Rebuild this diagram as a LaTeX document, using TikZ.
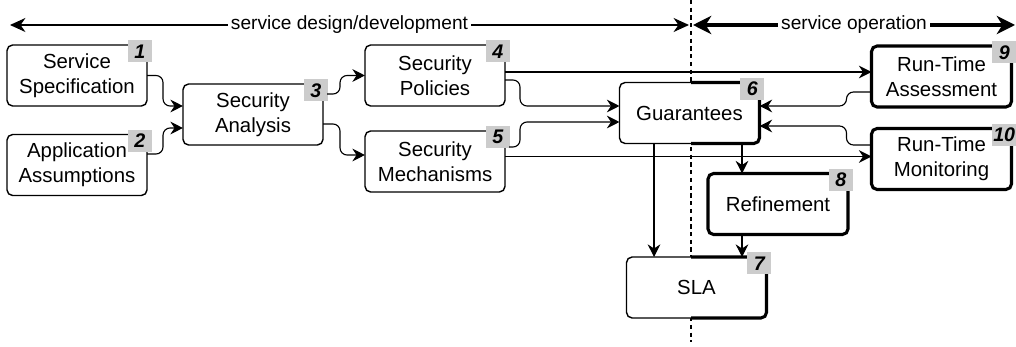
\documentclass[tikz,border=0pt]{standalone}
\usepackage{fontspec}
\setmainfont{Liberation Sans}
\usetikzlibrary{arrows.meta}
\begin{document}
\begin{tikzpicture}[x=0.025cm, y=-0.025cm,
  box/.style={draw, line width=1pt, rounded corners=4pt, fill=white, align=center,
    minimum width=3.5cm, minimum height=1.525cm, outer sep=0pt,
    font=\fontsize{14.5}{18}\selectfont},
  heavy/.style={line width=2.2pt},
  badge/.style={fill=black!20, minimum width=0.6cm, minimum height=0.55cm, inner sep=0pt,
    anchor=north east, font=\fontsize{14}{17}\selectfont\bfseries\itshape},
  conn/.style={line width=0.8pt, rounded corners=5pt, -{Stealth[length=9pt,width=9pt,inset=3pt]}},
  phase/.style={fill=white, inner sep=2pt, font=\fontsize{13.6}{17}\selectfont}]
\useasboundingbox (0,0) rectangle (1016,347);
\coordinate (dashtop) at (691,0);
\coordinate (dashbot) at (691,342);
\coordinate (designL) at (10,25);
\coordinate (designR) at (689,25);
\coordinate (operL) at (693,25);
\coordinate (operR) at (1015,25);
\draw[dashed, line width=0.8pt, dash pattern=on 3pt off 2.5pt] (dashtop) -- (dashbot);
% phases
\draw[line width=0.8pt, {Stealth[length=11pt,width=10pt,inset=3.5pt]}-{Stealth[length=11pt,width=10pt,inset=3.5pt]}]
  (designL) -- node[phase] (design) {service design/development} (designR);
\draw[heavy, {Stealth[length=13pt,width=13pt,inset=4pt]}-{Stealth[length=13pt,width=13pt,inset=4pt]}]
  (operL) -- node[phase] (oper) {service operation} (operR);
% boxes
\node (spec) at (77,75.5) [box] {Service\\Specification};
\node (app) at (77,165) [box] {Application\\Assumptions};
\node (ana) at (253,114.5) [box] {Security\\Analysis};
\node (pol) at (435,75.5) [box] {Security\\Policies};
\node (mech) at (435,161.5) [box] {Security\\Mechanisms};
\node (guar) at (689.5,113) [box] {Guarantees};
\node (sla) at (696.5,287.5) [box] {SLA};
\node (ref) at (778,204) [box, heavy] {Refinement};
\node (rta) at (941.5,76.5) [box, heavy] {Run-Time\\Assessment};
\node (rtm) at (941.5,159) [box, heavy] {Run-Time\\Monitoring};
\begin{scope}
\clip (dashtop) rectangle (1016,347);
\draw[heavy, rounded corners=4pt] (guar.south west) rectangle (guar.north east);
\draw[heavy, rounded corners=4pt] (sla.south west) rectangle (sla.north east);
\end{scope}
% numbers
\node (b1) at ([shift={(5,-5)}]spec.north east) [badge] {1};
\node (b2) at ([shift={(5,-5)}]app.north east) [badge] {2};
\node (b3) at ([shift={(5,-5)}]ana.north east) [badge] {3};
\node (b4) at ([shift={(5,-5)}]pol.north east) [badge] {4};
\node (b5) at ([shift={(5,-5)}]mech.north east) [badge] {5};
\node (b6) at ([shift={(5,-5)}]guar.north east) [badge] {6};
\node (b7) at ([shift={(5,-5)}]sla.north east) [badge] {7};
\node (b8) at ([shift={(5,-5)}]ref.north east) [badge] {8};
\node (b9) at ([shift={(5,-5)}]rta.north east) [badge] {9};
\node (b10) at ([shift={(5,-5)}]rtm.north east) [badge] {10};
% connectors
\coordinate (p5) at ([shift={(0,-3.5)}]pol.east);
\coordinate (m8) at ([shift={(0,-5)}]mech.east);
\coordinate (g11) at ([shift={(-35.5,0)}]guar.south);
\coordinate (g12) at ([shift={(52.5,0)}]guar.south);
\coordinate (r13) at ([shift={(-36,0)}]ref.south);
\draw[conn] (spec.east) -- ++(16,0) |- ([shift={(0,-8.5)}]ana.west);
\draw[conn] ([shift={(0,-11)}]app.east) -- ++(16,0) |- ([shift={(0,13.5)}]ana.west);
\draw[conn] ([shift={(4,-20.5)}]ana.east) -- ++(13,0) |- (pol.west);
\draw[conn] ([shift={(0,9.5)}]ana.east) -- ++(17,0) |- ([shift={(0,-6.5)}]mech.west);
\draw[conn] (p5) -- (p5 -| rta.west);
\draw[conn] ([shift={(0,4.5)}]pol.east) -- ++(15,0) |- ([shift={(0,-7)}]guar.west);
\draw[conn] ([shift={(4,-14.5)}]mech.east) -- ++(11,0) |- ([shift={(0,9)}]guar.west);
\draw[conn] (m8) -- (m8 -| rtm.west);
\draw[conn] ([shift={(0,15.5)}]rta.west) -- ++(-25,0) |- ([shift={(0,-7)}]guar.east);
\draw[conn] ([shift={(0,-14)}]rtm.west) -- ++(-25,0) |- ([shift={(0,13)}]guar.east);
\draw[conn] (g11) -- (g11 |- sla.north);
\draw[conn] (g12) -- (g12 |- ref.north);
\draw[conn] (r13) -- (r13 |- sla.north);
\end{tikzpicture}
\end{document}
